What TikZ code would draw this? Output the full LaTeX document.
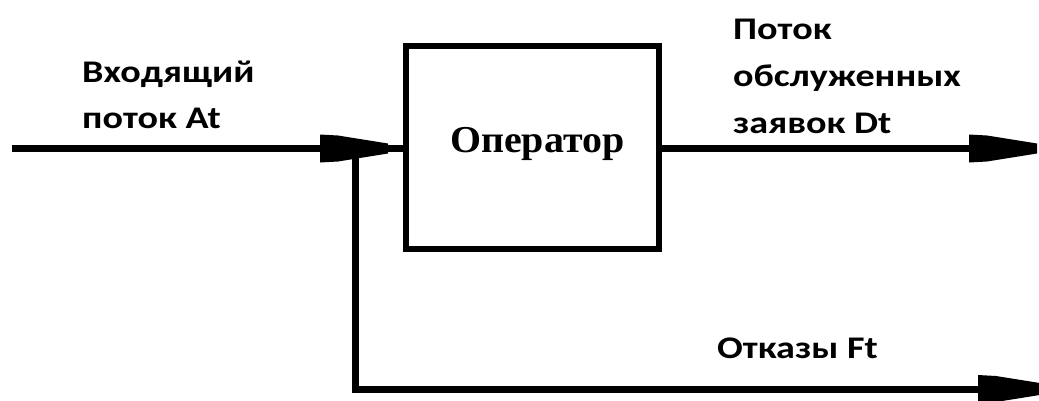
\documentclass[tikz,border=0pt]{standalone}
\usepackage{fontspec}
\usetikzlibrary{decorations.markings}
\newfontfamily\labfont{Carlito}[FakeStretch=1.21]
\newfontfamily\opfont{Liberation Serif}[FakeStretch=1.05]
\tikzset{
  flow/.style={line width=7pt},
  boxstyle/.style={draw, line width=6pt, minimum width=253pt, minimum height=203pt, inner sep=0pt},
  lab/.style={font=\labfont\bfseries\fontsize{31.5}{47}\selectfont, align=left, inner sep=0pt, anchor=base west},
  optext/.style={font=\opfont\bfseries\fontsize{38}{44}\selectfont, inner sep=0pt, anchor=base west},
  arrowat/.style={postaction={decorate}, decoration={markings, mark=at position #1 with {\fill (-68pt,14pt) -- (-50pt,13pt) -- (0pt,5pt) -- (0pt,-5pt) -- (-50pt,-13pt) -- (-68pt,-14pt) -- cycle;}}}
}
\begin{document}
\begin{tikzpicture}[x=1pt,y=1pt]
\useasboundingbox (0,0) rectangle (1039,400);
\node[boxstyle] (op) at (532.5,252.5) {};
\node[optext] (opl) at (450,248) {Оператор};
\coordinate (in) at (12,251.5);
\coordinate (junc) at (355.5,251.5);
\coordinate (corner) at (355.5,11);
\coordinate (outD) at (1037,251.5);
\coordinate (outF) at (1046,11);
\draw[flow, arrowat=-15pt] (in) -- (in -| op.west);
\draw[flow, arrowat=1] (junc) -- (corner) -- (outF);
\draw[flow, arrowat=1] (op.east |- outD) -- (outD);
\node[lab] (labA) at (82,271) {Входящий\\поток At};
\node[lab] (labD) at (733,267) {Поток\\обслуженных\\заявок Dt};
\node[lab] (labF) at (717,42) {Отказы Ft};
\end{tikzpicture}
\end{document}
